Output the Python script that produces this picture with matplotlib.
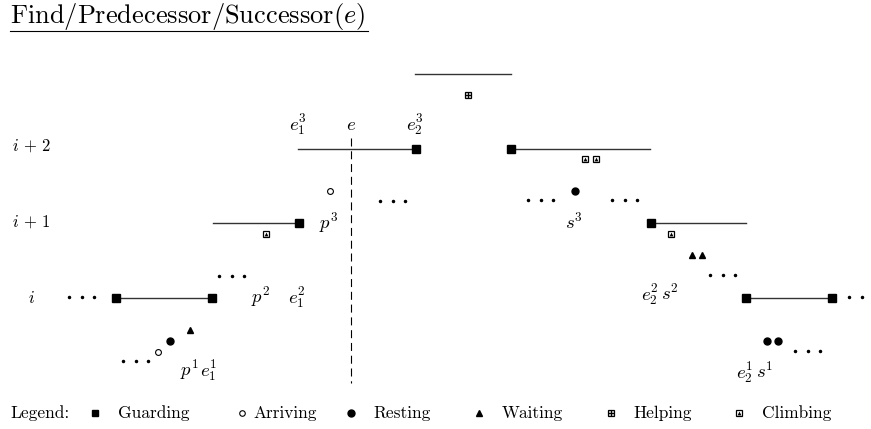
import matplotlib.pyplot as plt
import numpy as np

plt.rcParams['font.family'] = 'serif'
plt.rcParams['font.serif'] = ['cmr10']
plt.rcParams['mathtext.fontset'] = 'cm'
plt.rcParams['axes.unicode_minus'] = False

# diagram drawn in pixel coordinates (x to the right, y downwards)
title = r'Find/Predecessor/Successor$(e)$'

row_labels = [r'$i\,+\,2$', r'$i\,+\,1$', r'$i$']
row_y = [151, 227, 303]

# horizontal segments: x0, x1, y
seg_x0 = [415, 298, 511, 213, 651, 116, 746]
seg_x1 = [511, 416, 650, 299, 746, 212, 832]
seg_y = [74, 149, 149, 223, 223, 298, 298]

guard_x = [416, 511, 299, 651, 116, 212, 746, 832]
guard_y = [149, 149, 223, 223, 298, 298, 298, 298]

arrive_x = [330, 158]
arrive_y = [191, 352]

rest_x = [575, 170, 767, 778]
rest_y = [191, 341, 341, 341]

wait_x = [190, 692, 702]
wait_y = [330, 255, 255]

help_x = [468]
help_y = [95]

climb_x = [585, 596, 266, 671]
climb_y = [159, 159, 234, 234]

# "..." groups: left dot position
dots_x = [69, 380, 219, 528, 612, 123, 710, 795, 849]
dots_y = [297, 201, 276, 200, 200, 361, 275, 351, 297]

labels = [r'$e_1^3$', r'$e$', r'$e_2^3$', r'$p^3$', r'$s^3$',
          r'$p^2$', r'$e_1^2$', r'$p^1$', r'$e_1^1$',
          r'$e_2^2$', r'$s^2$', r'$e_2^1$', r'$s^1$']
label_x = [298, 351, 415, 329, 574, 261, 297, 189, 209, 650, 670, 745, 765]
label_y = [130, 130, 130, 229, 229, 303, 303, 376, 376, 300, 300, 378, 378]

legend_names = ['Guarding', 'Arriving', 'Resting', 'Waiting', 'Helping', 'Climbing']
legend_mark_x = [95, 242, 351, 479, 611, 739]
legend_text_x = [118, 253, 373, 502, 633, 762]


def draw_helping(ax, xs, ys, ms=4.6):
    ax.plot(xs, ys, 's', ms=ms, mfc='#dddddd', mec='black', mew=0.9, ls='none')
    ax.plot(xs, ys, '+', ms=ms, color='black', mew=0.9, ls='none')


def draw_climbing(ax, xs, ys, ms=4.6):
    ax.plot(xs, ys, 's', ms=ms, mfc='white', mec='black', mew=0.9, ls='none')
    ax.plot(xs, np.array(ys) + 0.3, '^', ms=ms * 0.6, color='black', mew=0, ls='none')


fig = plt.figure(figsize=(8.71, 4.29), dpi=100)
ax = fig.add_axes([0, 0, 1, 1])
ax.set_xlim(0, 871)
ax.set_ylim(429, 0)
ax.axis('off')

ax.text(10, 23, title, fontsize=19, ha='left', va='baseline')
ax.plot([10, 368], [31, 31], color='black', lw=0.8)

for lab, y in zip(row_labels, row_y):
    ax.text(31, y, lab, fontsize=12, ha='center', va='baseline')

for x0, x1, y in zip(seg_x0, seg_x1, seg_y):
    ax.plot([x0, x1], [y, y], color='#333333', lw=1.0)

# vertical dashed line through e
ax.plot([351, 351], [138, 383], color='black', lw=0.8, linestyle=(0, (7.2, 4.3)))

ax.plot(guard_x, guard_y, 's', ms=5.8, color='black', ls='none')
ax.plot(arrive_x, arrive_y, 'o', ms=4.2, mfc='white', mec='black', mew=0.8, ls='none')
ax.plot(rest_x, rest_y, 'o', ms=5.0, color='black', ls='none')
ax.plot(wait_x, wait_y, '^', ms=4.2, color='black', ls='none')
draw_helping(ax, help_x, help_y)
draw_climbing(ax, climb_x, climb_y)

for x, y in zip(dots_x, dots_y):
    ax.plot([x, x + 12.5, x + 25], [y, y, y], 'o', ms=1.5, color='black', ls='none')

for lab, x, y in zip(labels, label_x, label_y):
    ax.text(x, y, lab, fontsize=13.5, ha='center', va='baseline')

# legend row
ax.text(10, 418, 'Legend:', fontsize=12.5, ha='left', va='baseline')
ly = 413
ax.plot(legend_mark_x[0], ly, 's', ms=5.0, color='black')
ax.plot(legend_mark_x[1], ly, 'o', ms=4.0, mfc='white', mec='black', mew=0.8)
ax.plot(legend_mark_x[2], ly, 'o', ms=5.0, color='black')
ax.plot(legend_mark_x[3], ly, '^', ms=4.0, color='black')
draw_helping(ax, [legend_mark_x[4]], [ly])
draw_climbing(ax, [legend_mark_x[5]], [ly])
for name, x in zip(legend_names, legend_text_x):
    ax.text(x, 418, name, fontsize=12.5, ha='left', va='baseline')

fig.savefig('out.png', dpi=100)
